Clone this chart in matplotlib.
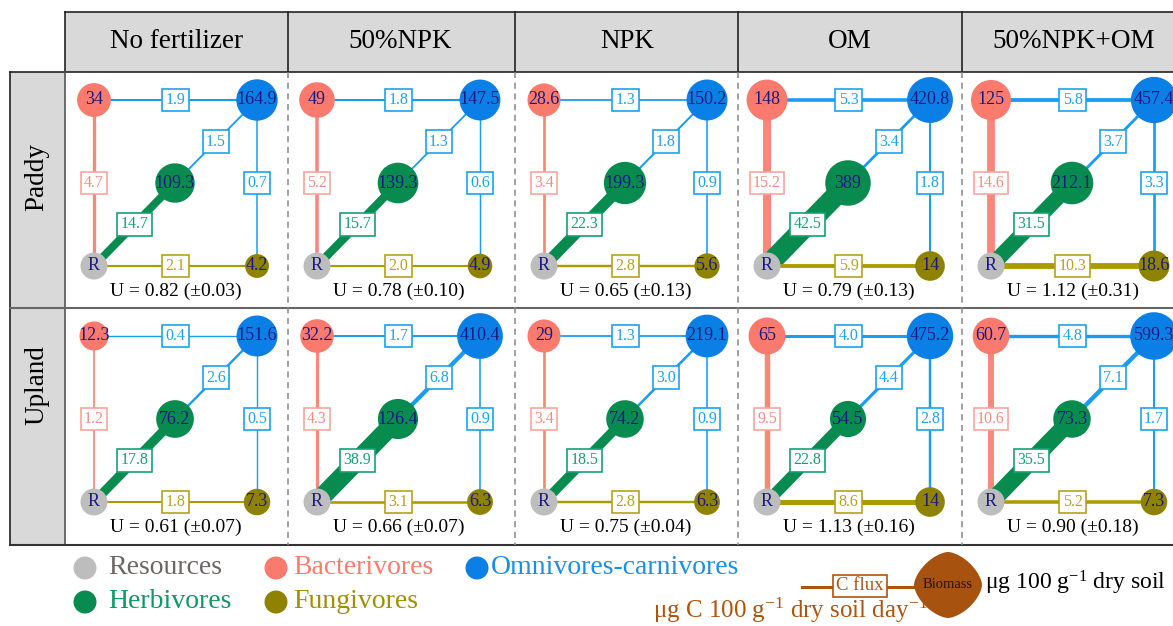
import numpy as np
import matplotlib
matplotlib.use('Agg')
import matplotlib.pyplot as plt
from matplotlib.patches import Circle, Rectangle, Polygon

plt.rcParams['font.family'] = ['Liberation Serif', 'DejaVu Serif']
plt.rcParams['mathtext.default'] = 'regular'

treatments = ['No fertilizer', '50%NPK', 'NPK', 'OM', '50%NPK+OM']
systems = ['Paddy', 'Upland']

# biomass (ug 100 g-1 dry soil)
bact_paddy = [34, 49, 28.6, 148, 125]
omni_paddy = [164.9, 147.5, 150.2, 420.8, 457.4]
herb_paddy = [109.3, 139.3, 199.3, 389, 212.1]
fung_paddy = [4.2, 4.9, 5.6, 14, 18.6]
bact_upland = [12.3, 32.2, 29, 65, 60.7]
omni_upland = [151.6, 410.4, 219.1, 475.2, 599.3]
herb_upland = [76.2, 126.4, 74.2, 54.5, 73.3]
fung_upland = [7.3, 6.3, 6.3, 14, 7.3]

# C flux (ug C 100 g-1 dry soil day-1)
r_b_paddy = [4.7, 5.2, 3.4, 15.2, 14.6]
r_h_paddy = [14.7, 15.7, 22.3, 42.5, 31.5]
r_f_paddy = [2.1, 2.0, 2.8, 5.9, 10.3]
b_o_paddy = [1.9, 1.8, 1.3, 5.3, 5.8]
h_o_paddy = [1.5, 1.3, 1.8, 3.4, 3.7]
f_o_paddy = [0.7, 0.6, 0.9, 1.8, 3.3]
r_b_upland = [1.2, 4.3, 3.4, 9.5, 10.6]
r_h_upland = [17.8, 38.9, 18.5, 22.8, 35.5]
r_f_upland = [1.8, 3.1, 2.8, 8.6, 5.2]
b_o_upland = [0.4, 1.7, 1.3, 4.0, 4.8]
h_o_upland = [2.6, 6.8, 3.0, 4.4, 7.1]
f_o_upland = [0.5, 0.9, 0.9, 2.8, 1.7]

# uniformity index with sd
u_paddy = [0.82, 0.78, 0.65, 0.79, 1.12]
u_sd_paddy = [0.03, 0.10, 0.13, 0.13, 0.31]
u_upland = [0.61, 0.66, 0.75, 1.13, 0.90]
u_sd_upland = [0.07, 0.07, 0.04, 0.16, 0.18]

biomass = {
    'Paddy': {'B': bact_paddy, 'O': omni_paddy, 'H': herb_paddy, 'F': fung_paddy},
    'Upland': {'B': bact_upland, 'O': omni_upland, 'H': herb_upland, 'F': fung_upland},
}
fluxes = {
    'Paddy': {('R', 'B'): r_b_paddy, ('R', 'H'): r_h_paddy, ('R', 'F'): r_f_paddy,
              ('B', 'O'): b_o_paddy, ('H', 'O'): h_o_paddy, ('F', 'O'): f_o_paddy},
    'Upland': {('R', 'B'): r_b_upland, ('R', 'H'): r_h_upland, ('R', 'F'): r_f_upland,
               ('B', 'O'): b_o_upland, ('H', 'O'): h_o_upland, ('F', 'O'): f_o_upland},
}
uniformity = {'Paddy': (u_paddy, u_sd_paddy), 'Upland': (u_upland, u_sd_upland)}

# colours
node_col = {'R': '#bdbdbd', 'B': '#fa7a6e', 'O': '#0a80e6', 'H': '#078b4e', 'F': '#8f8200'}
# link style by consumer: line, box edge, text
link_col = {'B': ('#f9877b', '#f8a59c', '#f38c82'),
            'H': ('#078b4e', '#16a073', '#16a073'),
            'O': ('#1a9cf0', '#1aa3f0', '#1aa3f0'),
            'F': ('#aa9c00', '#b5a31a', '#b5a31a')}
navy = '#1a1a80'
brown = '#ad540f'

col_left = [65, 288, 515, 738, 962]
row_top = [72, 308]
bottom = 545

fig = plt.figure(figsize=(11.73, 6.26), dpi=100)
ax = fig.add_axes([0, 0, 1, 1])
ax.set_xlim(0, 1173)
ax.set_ylim(626, 0)
ax.axis('off')

# table frame
ax.add_patch(Rectangle((65, 12), 1200, 60, fc='#d9d9d9', ec='none', zorder=0))
ax.add_patch(Rectangle((10, 72), 55, bottom - 72, fc='#d9d9d9', ec='none', zorder=0))
ax.plot([65, 1173], [12, 12], color='#222222', lw=1.2)
for x in col_left:
    ax.plot([x, x], [12, 72], color='#222222', lw=1.2)
ax.plot([10, 1173], [72, 72], color='#222222', lw=1.2)
ax.plot([10, 10], [72, bottom], color='#222222', lw=1.2)
ax.plot([65, 65], [72, bottom], color='#555555', lw=1.2)
ax.plot([10, 1173], [308, 308], color='#666666', lw=1.5)
ax.plot([10, 1173], [bottom, bottom], color='#333333', lw=1.5)
for x in col_left[1:]:
    ax.plot([x, x], [72, bottom], color='#888888', lw=1.1, dashes=(4, 3))

for x, name in zip(col_left, treatments):
    ax.text(x + 112, 42, name, ha='center', va='center', fontsize=19.5, color='black')
for y, name in zip([177, 385], systems):
    ax.text(37, y, name, ha='center', va='center', rotation=90, fontsize=19.5)


def radius(v):
    return 8.5 + 5.5 * np.log10(v)


def draw_panel(x0, y0, bio, flx, u, sd):
    pos = {'R': (x0 + 29, y0 + 194), 'B': (x0 + 29, y0 + 28),
           'H': (x0 + 110, y0 + 111), 'O': (x0 + 192, y0 + 28),
           'F': (x0 + 192, y0 + 194)}
    for (a, b), f in flx.items():
        lc, ec, tc = link_col[b] if a == 'R' else link_col['O']
        (xa, ya), (xb, yb) = pos[a], pos[b]
        w = (0.45 * f + 1.2) * 0.72
        ax.plot([xa, xb], [ya, yb], color=lc, lw=w, solid_capstyle='butt', zorder=2)
        ax.text((xa + xb) / 2, (ya + yb) / 2, '{:.1f}'.format(f), ha='center', va='center',
                fontsize=11.5, color=tc, zorder=4,
                bbox=dict(boxstyle='square,pad=0.2', fc='white', ec=ec, lw=1.2))
    ax.add_patch(Circle(pos['R'], 13.5, fc=node_col['R'], ec='none', zorder=5))
    ax.text(*pos['R'], 'R', ha='center', va='center', fontsize=13, color=navy, zorder=6)
    for k, v in bio.items():
        ax.add_patch(Circle(pos[k], radius(v), fc=node_col[k], ec='none', zorder=5))
        ax.text(*pos[k], '{:g}'.format(v), ha='center', va='center', fontsize=13,
                color=navy, zorder=6)
    ax.text(x0 + 111, y0 + 219, 'U = {:.2f} (±{:.2f})'.format(u, sd), ha='center',
            va='center', fontsize=14)


for y0, s in zip(row_top, systems):
    us, sds = uniformity[s]
    for i, x0 in enumerate(col_left):
        bio = {k: v[i] for k, v in biomass[s].items()}
        flx = {k: v[i] for k, v in fluxes[s].items()}
        draw_panel(x0, y0, bio, flx, us[i], sds[i])

# group legend
legend_items = [('Resources', 'R', '#6e6565', 85, 108, 568),
                ('Bacterivores', 'B', '#fa7b70', 276, 293, 568),
                ('Omnivores-carnivores', 'O', '#1a8fe8', 477, 491, 568),
                ('Herbivores', 'H', '#0e9a62', 85, 108, 602),
                ('Fungivores', 'F', '#a09000', 276, 293, 602)]
for label, k, tc, cx, tx, y in legend_items:
    ax.add_patch(Circle((cx, y), 11.5, fc=node_col[k], ec='none'))
    ax.text(tx, y, label, ha='left', va='center', fontsize=20, color=tc)

# flux / biomass key
ax.plot([802, 918], [587, 587], color=brown, lw=2.2, zorder=2)
ax.text(860, 586, 'C flux', ha='center', va='center', fontsize=13.5, color=brown, zorder=3,
        bbox=dict(boxstyle='square,pad=0.15', fc='white', ec=brown, lw=1.2))
t = np.linspace(0, 2 * np.pi, 200)
n = 1.6
bx = 948 + 34 * np.sign(np.cos(t)) * np.abs(np.cos(t)) ** (2 / n)
by = 585 + 33 * np.sign(np.sin(t)) * np.abs(np.sin(t)) ** (2 / n)
ax.add_patch(Polygon(np.column_stack([bx, by]), closed=True, fc='#a8520f', ec='none', zorder=4))
ax.text(948, 585, 'Biomass', ha='center', va='center', fontsize=10.5, color='#2a1200', zorder=5)
ax.text(985, 583, r'μg 100 g$^{-1}$ dry soil', ha='left', va='center', fontsize=17, color='black')
ax.text(653, 610, r'μg C 100 g$^{-1}$ dry soil day$^{-1}$', ha='left', va='center',
        fontsize=18, color=brown)

fig.savefig('out.png', dpi=100)
